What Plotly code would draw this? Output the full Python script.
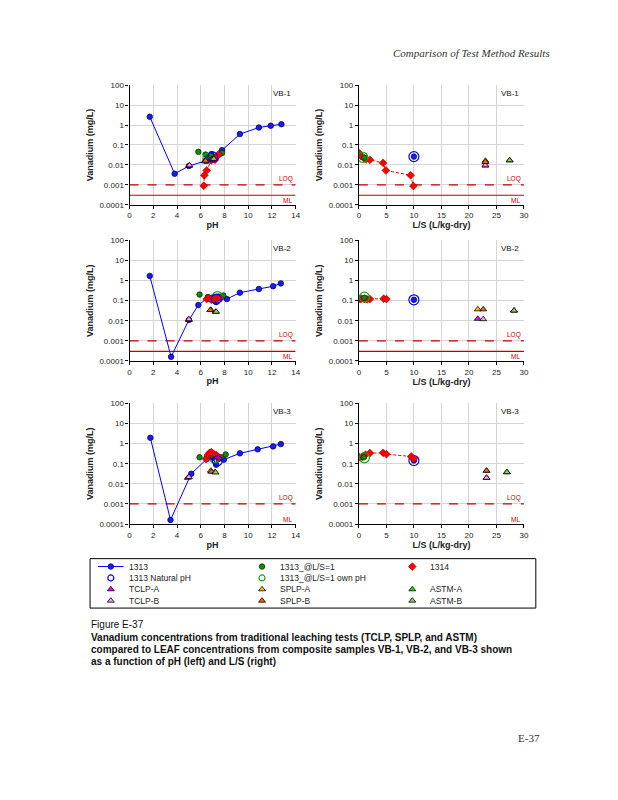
import math
import plotly.graph_objects as go

# ---------------- data ----------------
samples = ["VB-1", "VB-2", "VB-3"]

# 1313 (pH-dependent) : pH, mg/L
ph_1313 = [
    [1.7, 3.8, 5.0, 6.4, 6.9, 7.2, 7.8, 9.3, 10.9, 11.9, 12.8],
    [1.7, 3.5, 5.0, 5.8, 6.6, 7.0, 7.3, 7.6, 8.2, 9.3, 10.9, 12.1, 12.75],
    [1.75, 3.45, 5.2, 6.5, 7.0, 7.3, 7.5, 7.95, 9.3, 10.8, 12.1, 12.75],
]
v_1313 = [
    [2.6, 0.0036, 0.0088, 0.016, 0.035, 0.022, 0.055, 0.35, 0.75, 0.92, 1.1],
    [1.7, 0.00016, 0.011, 0.06, 0.14, 0.13, 0.085, 0.12, 0.12, 0.25, 0.38, 0.52, 0.72],
    [1.95, 0.00016, 0.032, 0.17, 0.2, 0.09, 0.17, 0.16, 0.33, 0.52, 0.73, 0.95],
]
# 1313 natural pH (ring)
nat_ph = [7.0, 7.3, 7.4]
nat_ls = [10, 10, 10]
nat_v_ph = [0.025, 0.12, 0.14]
nat_v_ls = [0.026, 0.11, 0.145]

# 1313 @ L/S=1
g_ph = [
    [5.8, 6.4, 6.6, 6.9, 7.1, 7.3, 7.6, 7.8],
    [5.9, 6.6, 6.9, 7.2, 7.5, 7.9],
    [5.9, 6.5, 6.9, 7.2, 7.7, 8.1],
]
g_v_ph = [
    [0.045, 0.033, 0.022, 0.027, 0.022, 0.025, 0.035, 0.04],
    [0.2, 0.15, 0.14, 0.13, 0.16, 0.18],
    [0.21, 0.2, 0.27, 0.25, 0.21, 0.29],
]
g_ls = [1.0, 1.0, 0.9]
g_v_ls = [0.023, 0.14, 0.21]
# 1313 @ L/S=1 own pH (green ring)
gown_ph = [6.6, 7.4, 7.15]
gown_v_ph = [0.021, 0.16, 0.2]
gown_ls = [0.7, 1.0, 1.0]
gown_v_ls = [0.024, 0.15, 0.2]

# 1314 (percolation column)
r_ph = [
    [6.25, 6.3, 6.5, 6.9, 7.2, 7.3, 7.5],
    [6.5, 6.7, 6.9, 7.1, 7.3, 7.6],
    [6.45, 6.6, 6.75, 6.9, 7.1, 7.3, 7.5],
]
r_v_ph = [
    [0.0009, 0.003, 0.0053, 0.017, 0.018, 0.024, 0.034],
    [0.12, 0.13, 0.11, 0.12, 0.13, 0.14],
    [0.17, 0.27, 0.35, 0.38, 0.3, 0.27, 0.22],
]
r_ls = [
    [0.1, 0.4, 1.0, 1.3, 2.0, 4.4, 4.9, 9.4, 9.9],
    [0.2, 0.5, 1.0, 1.5, 2.0, 4.5, 5.0],
    [0.1, 0.6, 1.2, 2.0, 4.4, 5.0, 9.5, 10.0],
]
r_v_ls = [
    [0.038, 0.027, 0.021, 0.019, 0.018, 0.0126, 0.0053, 0.003, 0.00087],
    [0.12, 0.125, 0.12, 0.115, 0.12, 0.125, 0.12],
    [0.21, 0.22, 0.28, 0.34, 0.35, 0.3, 0.23, 0.18],
]

# traditional tests
trad_names = ["TCLP-A", "TCLP-B", "SPLP-A", "SPLP-B", "ASTM-A", "ASTM-B"]
trad_ph = {
    "TCLP-A": [5.0, 5.0, 4.9], "TCLP-B": [5.05, 5.0, 5.0],
    "SPLP-A": [6.35, 6.85, 6.85], "SPLP-B": [6.4, 6.8, 6.9],
    "ASTM-A": [7.0, 7.25, 7.2], "ASTM-B": [7.1, 7.3, 7.25],
}
trad_v_ph = {
    "TCLP-A": [0.009, 0.011, 0.02], "TCLP-B": [0.0095, 0.012, 0.022],
    "SPLP-A": [0.015, 0.035, 0.045], "SPLP-B": [0.016, 0.034, 0.04],
    "ASTM-A": [0.02, 0.028, 0.038], "ASTM-B": [0.02, 0.028, 0.037],
}
trad_ls = {
    "TCLP-A": [23.0, 21.6, 23.2], "TCLP-B": [23.0, 22.6, 23.2],
    "SPLP-A": [23.0, 21.6, 23.2], "SPLP-B": [23.0, 22.6, 23.2],
    "ASTM-A": [27.4, 28.2, 26.9], "ASTM-B": [27.4, 28.2, 26.9],
}
trad_v_ls = {
    "TCLP-A": [0.0093, 0.0125, 0.02], "TCLP-B": [0.0095, 0.012, 0.02],
    "SPLP-A": [0.016, 0.037, 0.045], "SPLP-B": [0.014, 0.037, 0.045],
    "ASTM-A": [0.017, 0.032, 0.038], "ASTM-B": [0.017, 0.032, 0.038],
}

LOQ = [0.001, 0.001, 0.001]
ML = [0.0003, 0.0003, 0.0003]
ML_line = [True, True, False]

ytick_vals = [0.0001, 0.001, 0.01, 0.1, 1, 10, 100]
ytick_text = ["0.0001", "0.001", "0.01", "0.1", "1", "10", "100"]

legend_labels = ["1313", "1313_@L/S=1", "1314",
                 "1313 Natural pH", "1313_@L/S=1 own pH", None,
                 "TCLP-A", "SPLP-A", "ASTM-A",
                 "TCLP-B", "SPLP-B", "ASTM-B"]

# ---------------- styles / page geometry ----------------
PAGE_W, PAGE_H = 618, 800
OFF = 8                      # page body margin of the browser (each side)
W, H = PAGE_W - 2 * OFF, PAGE_H - 2 * OFF
FONT = "Liberation Sans, Arial, sans-serif"
SERIF = "Liberation Serif, Times New Roman, serif"
BLUE = "#0000ff"
trad_color = {"TCLP-A": "#ff00ff", "TCLP-B": "#ff99ff", "SPLP-A": "#ffc000",
              "SPLP-B": "#ff6600", "ASTM-A": "#00ee00", "ASTM-B": "#99cc66"}
styles = {
    "1313": dict(mode="lines+markers", line=dict(color=BLUE, width=1),
                 marker=dict(symbol="circle", size=5.5, color="#1a1aff", line=dict(color="#000066", width=0.8))),
    "1313 Natural pH": dict(mode="markers", marker=dict(symbol="circle-open", size=10, color=BLUE, line=dict(color=BLUE, width=1.2))),
    "1313_@L/S=1": dict(mode="markers", marker=dict(symbol="circle", size=5.5, color="#118811", line=dict(color="#003300", width=0.8))),
    "1313_@L/S=1 own pH": dict(mode="markers", marker=dict(symbol="circle-open", size=10, color="#11aa11", line=dict(color="#11aa11", width=1.2))),
    "1314": dict(mode="lines+markers", line=dict(color="#ff0000", width=1, dash="3px,2px"),
                 marker=dict(symbol="diamond", size=6, color="#ff0000", line=dict(color="#990000", width=0.6))),
}
for n in trad_names:
    styles[n] = dict(mode="markers", marker=dict(symbol="triangle-up", size=6, color=trad_color[n], line=dict(color="#000000", width=0.8)))


def pxx(x):
    return (x - OFF) / W


def pxy(y):
    return 1 - (y - OFF) / H


fig = go.Figure()

colx = [(129, 297), (361, 528)]
rowy = [(82, 203), (239, 361), (404, 526)]


def add(name, x, y, xa, ya):
    st = dict(styles[name])
    fig.add_trace(go.Scatter(x=x, y=y, xaxis=xa, yaxis=ya, name=name, showlegend=False,
                             hoverinfo="skip", **st))


layout_axes = {}
for r in range(3):
    for c in range(2):
        k = r * 2 + c + 1
        sfx = "" if k == 1 else str(k)
        xa, ya = f"x{sfx}", f"y{sfx}"
        xr = [0, 14] if c == 0 else [0, 30]
        layout_axes[f"xaxis{sfx}"] = dict(
            domain=[pxx(colx[c][0]), pxx(colx[c][1])], anchor=ya, range=xr, dtick=2 if c == 0 else 5,
            showgrid=True, gridcolor="#d4d4d4", gridwidth=1, zeroline=False,
            showline=True, linecolor="black", linewidth=1.2, ticks="outside", ticklen=3,
            tickcolor="black", tickfont=dict(size=8, family=FONT, color="#222"),
            title=dict(text="<b>pH</b>" if c == 0 else "<b>L/S (L/kg-dry)</b>",
                       font=dict(size=9, family=FONT, color="#222"), standoff=2),
        )
        layout_axes[f"yaxis{sfx}"] = dict(
            domain=[pxy(rowy[r][1]), pxy(rowy[r][0])], anchor=xa, type="log", range=[-4, 2],
            tickvals=ytick_vals, ticktext=ytick_text,
            showgrid=True, gridcolor="#d4d4d4", gridwidth=1, zeroline=False,
            showline=True, linecolor="black", linewidth=1.2, ticks="outside", ticklen=3,
            tickcolor="black", tickfont=dict(size=8, family=FONT, color="#222"),
            title=dict(text="<b>Vanadium (mg/L)</b>", font=dict(size=9, family=FONT, color="#222"), standoff=4),
        )
        fig.add_trace(go.Scatter(x=xr, y=[LOQ[r], LOQ[r]], xaxis=xa, yaxis=ya, mode="lines",
                                 line=dict(color="#c00000", width=1.2, dash="dash"),
                                 showlegend=False, hoverinfo="skip"))
        if ML_line[r]:
            fig.add_trace(go.Scatter(x=xr, y=[ML[r], ML[r]], xaxis=xa, yaxis=ya, mode="lines",
                                     line=dict(color="#c00000", width=1.2),
                                     showlegend=False, hoverinfo="skip"))
        fig.add_annotation(x=xr[1], y=math.log10(LOQ[r]), xref=xa, yref=ya, text="LOQ",
                           showarrow=False, xanchor="right", yanchor="bottom", xshift=-1,
                           font=dict(size=6.5, family=FONT, color="#c00000"))
        fig.add_annotation(x=xr[1], y=math.log10(ML[r]), xref=xa, yref=ya, text="ML",
                           showarrow=False, xanchor="right", yanchor="top", xshift=-2,
                           font=dict(size=6.5, family=FONT, color="#c00000"))
        fig.add_annotation(x=0.985, y=0.985, xref=f"{xa} domain", yref=f"{ya} domain", text=samples[r],
                           showarrow=False, xanchor="right", yanchor="top",
                           font=dict(size=8, family=FONT, color="#111"))
        if c == 0:
            add("1313", ph_1313[r], v_1313[r], xa, ya)
            add("1313_@L/S=1", g_ph[r], g_v_ph[r], xa, ya)
            add("1313_@L/S=1 own pH", [gown_ph[r]], [gown_v_ph[r]], xa, ya)
            add("1314", r_ph[r], r_v_ph[r], xa, ya)
            for n in trad_names:
                add(n, [trad_ph[n][r]], [trad_v_ph[n][r]], xa, ya)
            add("1313 Natural pH", [nat_ph[r]], [nat_v_ph[r]], xa, ya)
        else:
            add("1313", [nat_ls[r]], [nat_v_ls[r]], xa, ya)
            add("1313 Natural pH", [nat_ls[r]], [nat_v_ls[r]], xa, ya)
            add("1314", r_ls[r], r_v_ls[r], xa, ya)
            add("1313_@L/S=1", [g_ls[r]], [g_v_ls[r]], xa, ya)
            add("1313_@L/S=1 own pH", [gown_ls[r]], [gown_v_ls[r]], xa, ya)
            for n in trad_names:
                add(n, [trad_ls[n][r]], [trad_v_ls[n][r]], xa, ya)

# ---------------- legend (key box drawn in its own small axes) ----------------
leg_box = (89, 561, 540, 611)
leg_cols = [110, 263, 415]
leg_rows = [569, 580.5, 592, 603.5]
layout_axes["xaxis7"] = dict(domain=[pxx(leg_box[0]), pxx(leg_box[2])], range=[leg_box[0], leg_box[2]],
                             visible=False, fixedrange=True, anchor="y7")
layout_axes["yaxis7"] = dict(domain=[pxy(leg_box[3]), pxy(leg_box[1])], range=[leg_box[3], leg_box[1]],
                             visible=False, fixedrange=True, anchor="x7")
for i, lab in enumerate(legend_labels):
    if lab is None:
        continue
    cx = leg_cols[i % 3]
    cy = leg_rows[i // 3]
    st = dict(styles[lab])
    if lab == "1313":
        fig.add_trace(go.Scatter(x=[cx - 13, cx + 13], y=[cy, cy], xaxis="x7", yaxis="y7", mode="lines",
                                 line=st["line"], showlegend=False, hoverinfo="skip"))
    mk = dict(st["marker"])
    if mk["symbol"].endswith("open"):
        mk["size"] = 6
    fig.add_trace(go.Scatter(x=[cx], y=[cy], xaxis="x7", yaxis="y7", mode="markers", marker=mk,
                             showlegend=False, hoverinfo="skip"))
    fig.add_annotation(x=pxx(cx + 16), y=pxy(cy), xref="paper", yref="paper", text=lab,
                       showarrow=False, xanchor="left", yanchor="middle",
                       font=dict(size=8.5, family=FONT, color="#222"))
fig.add_shape(type="rect", xref="paper", yref="paper",
              x0=pxx(leg_box[0]), x1=pxx(leg_box[2]), y0=pxy(leg_box[3]), y1=pxy(leg_box[1]),
              line=dict(color="black", width=1), fillcolor="rgba(0,0,0,0)")

# ---------------- page text ----------------
fig.add_annotation(x=pxx(556), y=pxy(49), xref="paper", yref="paper",
                   text="<i>Comparison of Test Method Results</i>", showarrow=False,
                   xanchor="right", yanchor="middle",
                   font=dict(size=11, family=SERIF, color="#333"))
fig.add_annotation(x=pxx(88), y=pxy(628), xref="paper", yref="paper", text="Figure E-37",
                   showarrow=False, xanchor="left", yanchor="middle",
                   font=dict(size=10, family=FONT, color="#111"))
caption = ["Vanadium concentrations from traditional leaching tests (TCLP, SPLP, and ASTM)",
           "compared to LEAF concentrations from composite samples VB-1, VB-2, and VB-3 shown",
           "as a function of pH (left) and L/S (right)"]
for i, line in enumerate(caption):
    fig.add_annotation(x=pxx(88), y=pxy(640.5 + 12.3 * i), xref="paper", yref="paper",
                       text=f"<b>{line}</b>", showarrow=False, xanchor="left", yanchor="middle",
                       font=dict(size=10, family=FONT, color="#111"))
fig.add_annotation(x=pxx(546), y=pxy(742), xref="paper", yref="paper", text="E-37",
                   showarrow=False, xanchor="right", yanchor="middle",
                   font=dict(size=11, family=SERIF, color="#333"))

fig.update_layout(width=W, height=H, margin=dict(l=0, r=0, t=0, b=0),
                  paper_bgcolor="white", plot_bgcolor="white", showlegend=False,
                  font=dict(family=FONT), **layout_axes)

fig.write_html("out.html")
